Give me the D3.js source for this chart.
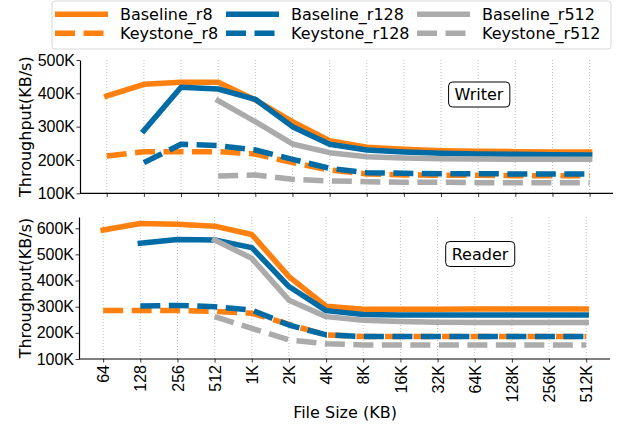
<!DOCTYPE html>
<html>
<head>
<meta charset="utf-8">
<script src="https://cdn.jsdelivr.net/npm/d3@7"></script>
<style>
  body { margin: 0; background: #fff; }
  svg { font-family: "DejaVu Sans", sans-serif; }
</style>
</head>
<body>
<div id="chart"></div>
<script>
// file sizes on the x axis
var fileSizes = ["64", "128", "256", "512", "1K", "2K", "4K", "8K", "16K", "32K", "64K", "128K", "256K", "512K"];

// Writer throughput (K KB/s), null = no point
var writerBaselineR8   = [392, 427, 433, 433, 380, 315, 258, 238, 232, 228, 226, 225, 224, 224];
var writerKeystoneR8   = [212, 225, 225, 225, 218, 192, 170, 158, 155, 154, 154, 153, 153, 153];
var writerBaselineR128 = [null, 288, 418, 413, 382, 300, 247, 230, 224, 220, 218, 217, 216, 215];
var writerKeystoneR128 = [null, 192, 247, 243, 230, 202, 175, 162, 160, 159, 159, 158, 158, 158];
var writerBaselineR512 = [null, null, null, 378, 315, 248, 222, 210, 206, 204, 203, 202, 202, 202];
var writerKeystoneR512 = [null, null, null, 152, 155, 142, 137, 135, 133, 133, 132, 132, 132, 132];

// Reader throughput (K KB/s)
var readerBaselineR8   = [593, 618, 615, 608, 576, 415, 302, 290, 290, 290, 291, 291, 291, 291];
var readerKeystoneR8   = [285, 285, 285, 282, 275, 232, 192, 186, 186, 186, 186, 186, 186, 186];
var readerBaselineR128 = [null, 543, 557, 555, 526, 377, 285, 270, 268, 268, 268, 268, 268, 268];
var readerKeystoneR128 = [null, 303, 305, 300, 287, 230, 192, 186, 186, 186, 186, 186, 186, 186];
var readerBaselineR512 = [null, null, null, 555, 485, 325, 262, 248, 243, 241, 240, 240, 240, 240];
var readerKeystoneR512 = [null, null, null, 262, 217, 173, 158, 154, 154, 154, 154, 154, 154, 154];

var writerTicks = [100, 200, 300, 400, 500];
var readerTicks = [100, 200, 300, 400, 500, 600];

var seriesNames = ["Baseline_r8", "Keystone_r8", "Baseline_r128", "Keystone_r128", "Baseline_r512", "Keystone_r512"];
var colors = { r8: "#FF800E", r128: "#006BA4", r512: "#ABABAB" };

function seriesStyle(name) {
  var run = name.split("_")[1];
  return { color: colors[run], dashed: name.indexOf("Keystone") === 0 };
}

var width = 621, height = 427;
var svg = d3.select("#chart").append("svg")
  .attr("width", width).attr("height", height);

function drawPanel(opts) {
  var x = d3.scaleLinear().domain(opts.xDomain).range([opts.left, opts.right]);
  var y = d3.scaleLinear().domain(opts.yDomain).range([opts.bottom, opts.top]);
  var g = svg.append("g");

  // vertical dotted grid
  g.selectAll(".grid").data(fileSizes).enter().append("line")
    .attr("x1", function (d, i) { return x(i); })
    .attr("x2", function (d, i) { return x(i); })
    .attr("y1", opts.top).attr("y2", opts.bottom)
    .attr("stroke", "#b0b0b0").attr("stroke-width", 0.8)
    .attr("stroke-dasharray", "1,2");

  // lines
  var line = d3.line()
    .defined(function (d) { return d != null; })
    .x(function (d, i) { return x(i); })
    .y(function (d) { return y(d); });

  opts.series.forEach(function (values, k) {
    var st = seriesStyle(seriesNames[k]);
    g.append("path")
      .attr("d", line(values))
      .attr("fill", "none")
      .attr("stroke", st.color)
      .attr("stroke-width", 5.5)
      .attr("stroke-linejoin", "round")
      .attr("stroke-linecap", st.dashed ? "butt" : "square")
      .attr("stroke-dasharray", st.dashed ? "20,8.5" : null);
  });

  // x axis
  var xAxis = d3.axisBottom(x)
    .tickValues(d3.range(fileSizes.length))
    .tickSize(3.5).tickSizeOuter(0)
    .tickFormat(function (i) { return opts.showXLabels ? fileSizes[i] : ""; });
  var gx = g.append("g").attr("transform", "translate(0," + opts.bottom + ")").call(xAxis);
  gx.select(".domain").attr("stroke", "#000").attr("stroke-width", 1.2)
    .attr("d", "M" + opts.left + ",0H" + opts.right);
  gx.selectAll(".tick line").attr("stroke", "#000").attr("stroke-width", 0.8);
  gx.selectAll(".tick text")
    .attr("font-size", 16).attr("fill", "#000")
    .attr("text-anchor", "end")
    .attr("transform", "translate(0,6) rotate(-90)")
    .attr("x", 0).attr("y", 0).attr("dy", "0.35em");

  // y axis
  var yAxis = d3.axisLeft(y)
    .tickValues(opts.yTicks)
    .tickSize(3.5).tickSizeOuter(0)
    .tickFormat(function (d) { return d + "K"; });
  var gy = g.append("g").attr("transform", "translate(" + opts.left + ",0)").call(yAxis);
  gy.select(".domain").attr("stroke", "#000").attr("stroke-width", 1.2);
  gy.selectAll(".tick line").attr("stroke", "#000").attr("stroke-width", 0.8);
  gy.selectAll(".tick text").attr("font-size", 16).attr("fill", "#000").attr("x", -5);

  // y label
  g.append("text")
    .attr("transform", "translate(31," + ((opts.top + opts.bottom) / 2) + ") rotate(-90)")
    .attr("text-anchor", "middle")
    .attr("font-size", 16)
    .text("Throughput(KB/s)");

  // panel tag
  var tag = g.append("g").attr("transform", "translate(" + opts.tagX + "," + opts.tagY + ")");
  var t = tag.append("text").attr("text-anchor", "middle").attr("dy", "0.36em")
    .attr("font-size", 16).text(opts.tag);
  var bb = t.node().getBBox();
  tag.insert("rect", "text")
    .attr("x", bb.x - 6).attr("y", -12.5)
    .attr("width", bb.width + 12).attr("height", 25)
    .attr("rx", 4).attr("fill", "#fff").attr("stroke", "#000").attr("stroke-width", 1);
}

drawPanel({
  left: 80, right: 613, top: 60, bottom: 193.3,
  xDomain: [-0.72, 13.63], yDomain: [100, 500], yTicks: writerTicks,
  series: [writerBaselineR8, writerKeystoneR8, writerBaselineR128, writerKeystoneR128, writerBaselineR512, writerKeystoneR512],
  showXLabels: false, tag: "Writer", tagX: 479, tagY: 94.5
});

drawPanel({
  left: 79, right: 610, top: 217, bottom: 359,
  xDomain: [-0.65, 13.64], yDomain: [100, 643], yTicks: readerTicks,
  series: [readerBaselineR8, readerKeystoneR8, readerBaselineR128, readerKeystoneR128, readerBaselineR512, readerKeystoneR512],
  showXLabels: true, tag: "Reader", tagX: 480, tagY: 254
});

// x axis title
svg.append("text")
  .attr("x", 345).attr("y", 418)
  .attr("text-anchor", "middle").attr("font-size", 16)
  .text("File Size (KB)");

// legend
var legend = svg.append("g");
legend.append("rect")
  .attr("x", 52).attr("y", 1).attr("width", 559).attr("height", 48)
  .attr("rx", 3).attr("fill", "#fff").attr("stroke", "#d8d8d8").attr("stroke-width", 1);

var colX = [55, 226, 417];
var rowY = [14.3, 33.3];
seriesNames.forEach(function (name, k) {
  var st = seriesStyle(name);
  var cx = colX[Math.floor(k / 2)], cy = rowY[k % 2];
  legend.append("line")
    .attr("x1", cx).attr("x2", cx + 53).attr("y1", cy).attr("y2", cy)
    .attr("stroke", st.color).attr("stroke-width", 5.5)
    .attr("stroke-dasharray", st.dashed ? "20,8.5" : null);
  legend.append("text")
    .attr("x", cx + 65).attr("y", cy).attr("dy", "0.36em")
    .attr("font-size", 16).text(name);
});
</script>
</body>
</html>
